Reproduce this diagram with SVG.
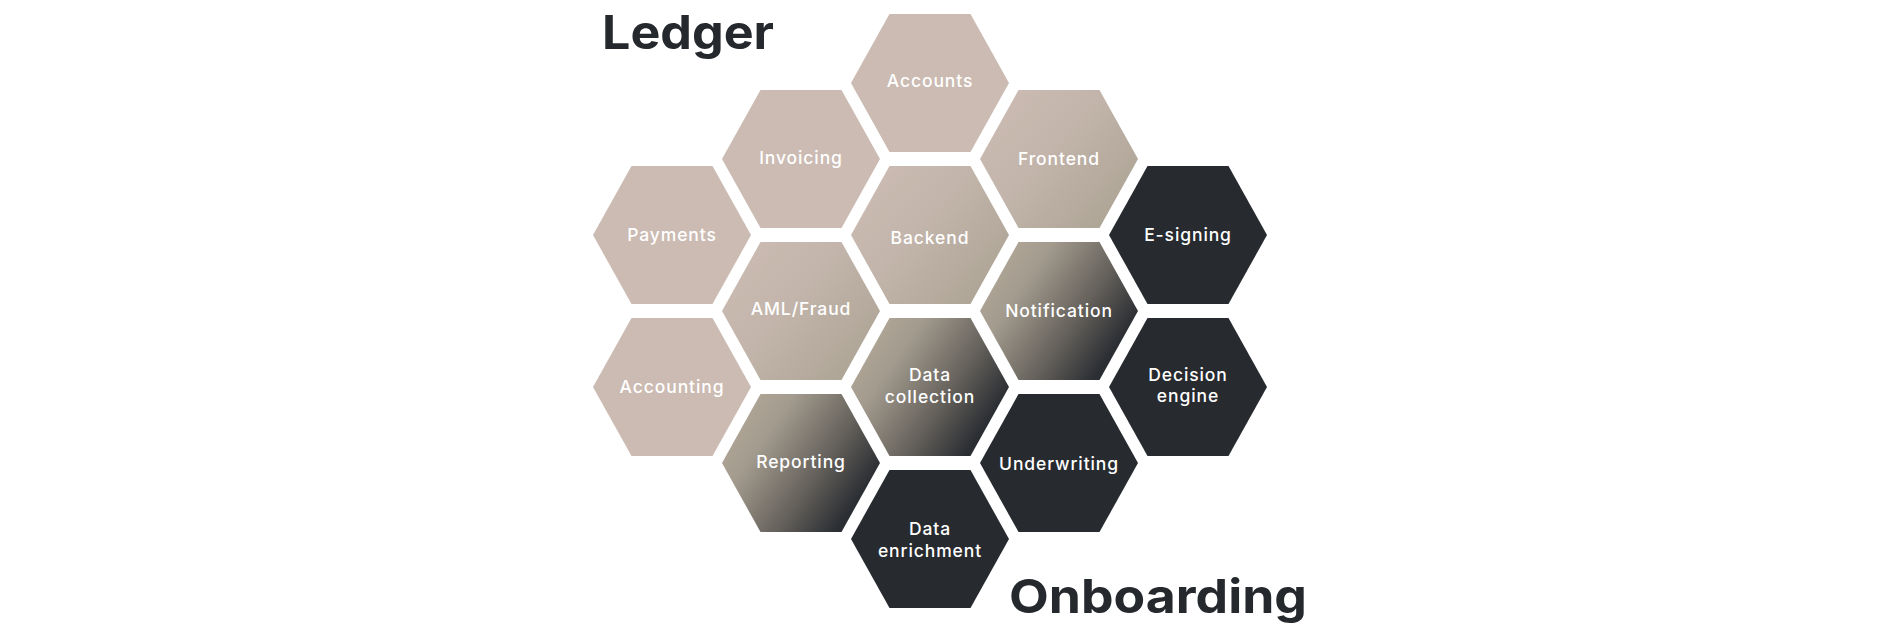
<svg xmlns="http://www.w3.org/2000/svg" xmlns:xlink="http://www.w3.org/1999/xlink" width="1899" height="633" viewBox="0 0 1899 633">
  <defs>
    <!-- one flat-topped hexagon, centred on the origin -->
    <polygon id="hex" points="-79,0 -40.5,-69 40.5,-69 79,0 40.5,69 -40.5,69"/>
    <!-- sand tone fading to khaki grey -->
    <linearGradient id="sandGrad" x1="0.05" y1="0.15" x2="0.95" y2="0.85">
      <stop offset="0" stop-color="#CBBBB2"/>
      <stop offset="0.4" stop-color="#C3B5AB"/>
      <stop offset="1" stop-color="#ADA495"/>
    </linearGradient>
    <!-- khaki grey fading to charcoal -->
    <linearGradient id="duskGrad" x1="0" y1="0.2" x2="1" y2="0.8">
      <stop offset="0" stop-color="#B3A99A"/>
      <stop offset="0.25" stop-color="#A39B8E"/>
      <stop offset="0.6" stop-color="#66625C"/>
      <stop offset="0.88" stop-color="#2B2E33"/>
      <stop offset="1" stop-color="#26292E"/>
    </linearGradient>
    <style>
      .sand { fill: #CBBBB2; }
      .sandfade { fill: url(#sandGrad); }
      .dusk { fill: url(#duskGrad); }
      .dark { fill: #272A2F; }
      .label { font-family: Inter, "Open Sans", "Liberation Sans", sans-serif; font-size: 17.5px; font-weight: 500; fill: #FFFFFF; text-anchor: middle; letter-spacing: 0.9px; }
      .title { font-family: Inter, "Liberation Sans", sans-serif; font-size: 47px; font-weight: 700; fill: #25282D; }
    </style>
  </defs>

  <rect width="1899" height="633" fill="#FFFFFF"/>

  <!-- section titles -->
  <text class="title" x="602" y="49" textLength="172" lengthAdjust="spacingAndGlyphs">Ledger</text>
  <text class="title" x="1009" y="613" textLength="298" lengthAdjust="spacingAndGlyphs">Onboarding</text>

  <!-- connectors: none drawn in this honeycomb -->
  <g id="connectors"/>

  <!-- column 0 -->
  <g id="payments">
    <use xlink:href="#hex" class="sand" x="672" y="235"/>
    <text class="label" x="672" y="241">Payments</text>
  </g>
  <g id="accounting">
    <use xlink:href="#hex" class="sand" x="672" y="387"/>
    <text class="label" x="672" y="393">Accounting</text>
  </g>

  <!-- column 1 -->
  <g id="invoicing">
    <use xlink:href="#hex" class="sand" x="801" y="159"/>
    <text class="label" x="801" y="164">Invoicing</text>
  </g>
  <g id="aml-fraud">
    <use xlink:href="#hex" class="sandfade" x="801" y="311"/>
    <text class="label" x="801" y="315">AML/Fraud</text>
  </g>
  <g id="reporting">
    <use xlink:href="#hex" class="dusk" x="801" y="463"/>
    <text class="label" x="801" y="468">Reporting</text>
  </g>

  <!-- column 2 -->
  <g id="accounts">
    <use xlink:href="#hex" class="sand" x="930" y="83"/>
    <text class="label" x="930" y="87">Accounts</text>
  </g>
  <g id="backend">
    <use xlink:href="#hex" class="sandfade" x="930" y="235"/>
    <text class="label" x="930" y="244">Backend</text>
  </g>
  <g id="data-collection">
    <use xlink:href="#hex" class="dusk" x="930" y="387"/>
    <text class="label" x="930" y="381">Data</text>
    <text class="label" x="930" y="403">collection</text>
  </g>
  <g id="data-enrichment">
    <use xlink:href="#hex" class="dark" x="930" y="539"/>
    <text class="label" x="930" y="535">Data</text>
    <text class="label" x="930" y="557">enrichment</text>
  </g>

  <!-- column 3 -->
  <g id="frontend">
    <use xlink:href="#hex" class="sandfade" x="1059" y="159"/>
    <text class="label" x="1059" y="165">Frontend</text>
  </g>
  <g id="notification">
    <use xlink:href="#hex" class="dusk" x="1059" y="311"/>
    <text class="label" x="1059" y="317">Notification</text>
  </g>
  <g id="underwriting">
    <use xlink:href="#hex" class="dark" x="1059" y="463"/>
    <text class="label" x="1059" y="470">Underwriting</text>
  </g>

  <!-- column 4 -->
  <g id="e-signing">
    <use xlink:href="#hex" class="dark" x="1188" y="235"/>
    <text class="label" x="1188" y="241">E-signing</text>
  </g>
  <g id="decision-engine">
    <use xlink:href="#hex" class="dark" x="1188" y="387"/>
    <text class="label" x="1188" y="381">Decision</text>
    <text class="label" x="1188" y="402">engine</text>
  </g>
</svg>
